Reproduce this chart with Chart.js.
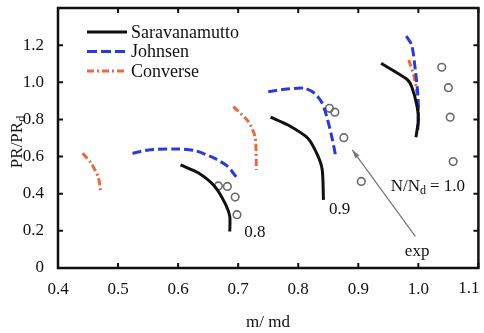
<!DOCTYPE html>
<html lang="en">
<head>
    <meta charset="UTF-8">
    <title>Speed lines</title>
    <script src="https://cdn.jsdelivr.net/npm/chart.js@4.4.1/dist/chart.umd.min.js"></script>
    <style>
        body { margin: 0; background: #fff; }
        #wrap { width: 484px; height: 333px; }
    </style>
</head>
<body>
    <div id="wrap"><canvas id="chart" width="484" height="333"></canvas></div>

    <script>
        // Saravanamutto (solid black), one curve per speed line
        const saraX08 = [0.604, 0.634, 0.661, 0.678, 0.686, 0.686];
        const saraY08 = [0.555, 0.511, 0.439, 0.349, 0.277, 0.197];
        const saraX09 = [0.754, 0.783, 0.816, 0.832, 0.840, 0.842];
        const saraY09 = [0.812, 0.770, 0.699, 0.609, 0.528, 0.367];
        const saraX10 = [0.938, 0.981, 0.989, 0.998, 1.000, 0.996];
        const saraY10 = [1.102, 1.016, 0.976, 0.869, 0.797, 0.704];

        // Johnsen (blue dashed)
        const johnX08 = [0.524, 0.551, 0.595, 0.628, 0.661, 0.683, 0.700];
        const johnY08 = [0.618, 0.636, 0.641, 0.632, 0.590, 0.546, 0.475];
        const johnX09 = [0.750, 0.777, 0.810, 0.827, 0.840, 0.849, 0.857, 0.862];
        const johnY09 = [0.949, 0.962, 0.968, 0.941, 0.887, 0.797, 0.690, 0.609];
        const johnX10 = [0.980, 0.989, 0.995, 0.999, 1.000, 0.999];
        const johnY10 = [1.249, 1.200, 1.066, 0.941, 0.833, 0.744];

        // Converse (orange dash-dot)
        const convX07 = [0.441, 0.455, 0.467, 0.471];
        const convY07 = [0.618, 0.565, 0.490, 0.410];
        const convX08 = [0.692, 0.717, 0.728, 0.730, 0.730];
        const convY08 = [0.869, 0.788, 0.708, 0.600, 0.528];
        const convX10 = [0.984, 0.993, 1.000, 1.000];
        const convY10 = [1.120, 1.030, 0.887, 0.761];

        // experimental points
        const expX = [0.667, 0.682, 0.695, 0.698, 0.852, 0.861, 0.876, 0.905, 1.039, 1.050, 1.053, 1.058];
        const expY = [0.442, 0.439, 0.382, 0.287, 0.860, 0.839, 0.702, 0.466, 1.081, 0.971, 0.812, 0.573];

        const seriesNames = ['Saravanamutto', 'Johnsen', 'Converse'];
        const xTicks = [0.4, 0.5, 0.6, 0.7, 0.8, 0.9, 1.0, 1.1];
        const yTicks = [0, 0.2, 0.4, 0.6, 0.8, 1.0, 1.2];

        // speed line labels: text, x, y
        const speedLabels = [
            ['0.8', 0.728, 0.190],
            ['0.9', 0.869, 0.313]
        ];

        const SERIF = '"Liberation Serif", "DejaVu Serif", serif';
        const BLACK = '#111111';
        const BLUE = '#2c3cd0';
        const ORANGE = '#e56a47';

        function pts(xs, ys) {
            return xs.map((x, i) => ({ x: x, y: ys[i] }));
        }

        function curve(label, xs, ys, color, dash) {
            return {
                label: label,
                data: pts(xs, ys),
                showLine: true,
                borderColor: color,
                backgroundColor: color,
                borderWidth: 3,
                borderDash: dash,
                pointRadius: 0,
                tension: 0.25,
                fill: false
            };
        }

        const dashJ = [9, 4];
        const dashC = [7, 3, 2, 3];

        const datasets = [
            curve(seriesNames[0], saraX08, saraY08, BLACK, []),
            curve(seriesNames[0], saraX09, saraY09, BLACK, []),
            curve(seriesNames[0], saraX10, saraY10, BLACK, []),
            curve(seriesNames[1], johnX08, johnY08, BLUE, dashJ),
            curve(seriesNames[1], johnX09, johnY09, BLUE, dashJ),
            curve(seriesNames[1], johnX10, johnY10, BLUE, dashJ),
            curve(seriesNames[2], convX07, convY07, ORANGE, dashC),
            curve(seriesNames[2], convX08, convY08, ORANGE, dashC),
            curve(seriesNames[2], convX10, convY10, ORANGE, dashC),
            {
                label: 'exp',
                data: pts(expX, expY),
                showLine: false,
                pointRadius: 3.8,
                pointBorderWidth: 1.6,
                pointBorderColor: '#6a6a6a',
                pointBackgroundColor: 'rgba(255,255,255,0)'
            }
        ];

        // frame, inward ticks, legend and text annotations
        const decor = {
            id: 'decor',
            afterDatasetsDraw(chart) {
                const ctx = chart.ctx;
                const a = chart.chartArea;
                const xs = chart.scales.x;
                const ys = chart.scales.y;
                ctx.save();

                // inward tick marks on all four sides
                ctx.strokeStyle = BLACK;
                ctx.lineWidth = 2;
                ctx.beginPath();
                xTicks.forEach(v => {
                    const px = xs.getPixelForValue(v);
                    ctx.moveTo(px, a.bottom); ctx.lineTo(px, a.bottom - 5);
                    ctx.moveTo(px, a.top); ctx.lineTo(px, a.top + 5);
                });
                yTicks.forEach(v => {
                    const py = ys.getPixelForValue(v);
                    ctx.moveTo(a.left, py); ctx.lineTo(a.left + 5, py);
                    ctx.moveTo(a.right, py); ctx.lineTo(a.right - 5, py);
                });
                ctx.stroke();

                // frame
                ctx.lineWidth = 2.5;
                ctx.strokeRect(a.left, a.top, a.right - a.left, a.bottom - a.top);

                // last x tick label sits flush with the right edge
                ctx.font = '17px ' + SERIF;
                ctx.fillStyle = BLACK;
                ctx.textAlign = 'right';
                ctx.textBaseline = 'middle';
                ctx.fillText('1.1', a.right + 1, 289);

                // legend
                ctx.font = '18px ' + SERIF;
                ctx.textAlign = 'left';
                const styles = [[BLACK, []], [BLUE, [10, 4]], [ORANGE, dashC]];
                seriesNames.forEach((name, i) => {
                    const y = 32 + i * 19.5;
                    ctx.strokeStyle = styles[i][0];
                    ctx.setLineDash(styles[i][1]);
                    ctx.lineWidth = 3;
                    ctx.beginPath();
                    ctx.moveTo(87, y); ctx.lineTo(127, y);
                    ctx.stroke();
                    ctx.setLineDash([]);
                    ctx.fillStyle = BLACK;
                    ctx.fillText(name, 131, y + 1);
                });

                // arrow to the experimental points
                const tx = xs.getPixelForValue(0.995), ty = ys.getPixelForValue(0.170);
                const hx = xs.getPixelForValue(0.890), hy = ys.getPixelForValue(0.636);
                ctx.strokeStyle = '#7a7a7a';
                ctx.fillStyle = '#7a7a7a';
                ctx.lineWidth = 1.3;
                ctx.beginPath();
                ctx.moveTo(tx, ty); ctx.lineTo(hx, hy);
                ctx.stroke();
                const ang = Math.atan2(hy - ty, hx - tx);
                ctx.beginPath();
                ctx.moveTo(hx, hy);
                ctx.lineTo(hx - 9 * Math.cos(ang - 0.3), hy - 9 * Math.sin(ang - 0.3));
                ctx.lineTo(hx - 9 * Math.cos(ang + 0.3), hy - 9 * Math.sin(ang + 0.3));
                ctx.closePath();
                ctx.fill();

                // speed labels
                ctx.font = '17px ' + SERIF;
                ctx.textAlign = 'center';
                ctx.fillStyle = BLACK;
                speedLabels.forEach(l => {
                    ctx.fillText(l[0], xs.getPixelForValue(l[1]), ys.getPixelForValue(l[2]));
                });
                ctx.fillText('exp', xs.getPixelForValue(0.998), ys.getPixelForValue(0.088));

                // N/Nd = 1.0 with subscript
                const nx = xs.getPixelForValue(0.954), ny = ys.getPixelForValue(0.437);
                ctx.textAlign = 'left';
                ctx.font = '17px ' + SERIF;
                ctx.fillText('N/N', nx, ny);
                let w = ctx.measureText('N/N').width;
                ctx.font = '12px ' + SERIF;
                ctx.fillText('d', nx + w, ny + 4);
                w += ctx.measureText('d').width + 4;
                ctx.font = '17px ' + SERIF;
                ctx.fillText('= 1.0', nx + w, ny);

                // y axis title PR/PRd, rotated
                ctx.translate(18, 142);
                ctx.rotate(-Math.PI / 2);
                ctx.textAlign = 'left';
                ctx.font = '17px ' + SERIF;
                const t1 = 'PR/PR';
                const w1 = ctx.measureText(t1).width;
                ctx.font = '12px ' + SERIF;
                const w2 = ctx.measureText('d').width;
                const sx = -(w1 + w2) / 2;
                ctx.font = '17px ' + SERIF;
                ctx.fillText(t1, sx, 0);
                ctx.font = '12px ' + SERIF;
                ctx.fillText('d', sx + w1, 4);
                ctx.setTransform(1, 0, 0, 1, 0, 0);

                // x axis title
                ctx.font = '17px ' + SERIF;
                ctx.textAlign = 'center';
                ctx.fillText('m/ md', 268, 323);

                ctx.restore();
            }
        };

        const ctx = document.getElementById('chart').getContext('2d');
        const chart = new Chart(ctx, {
            type: 'scatter',
            data: { datasets: datasets },
            options: {
                responsive: false,
                animation: false,
                devicePixelRatio: 1,
                layout: { padding: { top: 8, right: 3, left: 0, bottom: 0 } },
                plugins: {
                    legend: { display: false },
                    tooltip: { enabled: false }
                },
                scales: {
                    x: {
                        type: 'linear',
                        min: 0.4,
                        max: 1.1,
                        grid: { display: false },
                        border: { display: false },
                        afterBuildTicks: s => { s.ticks = xTicks.map(v => ({ value: v })); },
                        afterFit: s => {
                            s.height = 65;
                            s.paddingLeft = 0;
                            s.paddingRight = 0;
                        },
                        ticks: {
                            color: BLACK,
                            padding: 3,
                            maxRotation: 0,
                            font: { family: SERIF, size: 17 },
                            callback: v => Math.abs(v - 1.1) < 1e-6 ? '' : v.toFixed(1)
                        }
                    },
                    y: {
                        type: 'linear',
                        min: 0,
                        max: 1.4,
                        grid: { display: false },
                        border: { display: false },
                        afterBuildTicks: s => { s.ticks = yTicks.map(v => ({ value: v })); },
                        afterFit: s => {
                            s.width = 58;
                            s.paddingTop = 0;
                            s.paddingBottom = 0;
                        },
                        ticks: {
                            color: BLACK,
                            padding: 6,
                            font: { family: SERIF, size: 17 },
                            callback: v => v === 0 ? '0' : v.toFixed(1)
                        }
                    }
                }
            },
            plugins: [decor]
        });
    </script>
</body>
</html>
